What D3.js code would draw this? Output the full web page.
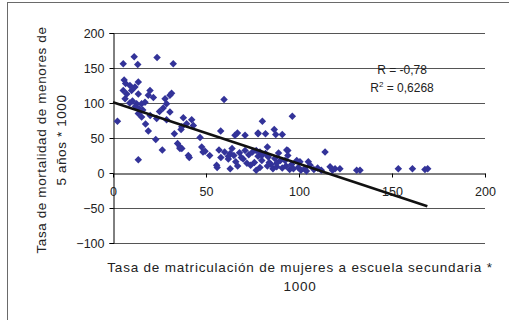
<!DOCTYPE html>
<html>
<head>
<meta charset="utf-8">
<script src="https://cdn.jsdelivr.net/npm/d3@7"></script>
<style>
  body { margin: 0; background: #fff; }
  text { font-family: "Liberation Sans", Arial, sans-serif; fill: #222; }
</style>
</head>
<body>
<div id="chart"></div>
<script>
// matriculación secundaria mujeres (x) vs mortalidad < 5 años (y)
const enrolment = [
  5.5, 11.4, 13.3, 23.7, 32.4,
  6, 6.8, 9.1, 13.6, 11.8, 10, 5.5, 7.4, 13.6, 19.9, 19, 21.7, 31.5, 30.6, 28, 28.8, 6.5, 12.7, 15.4, 17.2,
  2.4, 13.6, 23, 26.5, 19, 17.5, 33, 34.7, 36, 37, 30.6, 36.6,
  13.6, 15.4, 23.5, 28.8, 12, 14, 16, 20, 25, 27, 9, 10.5,
  37.8, 42.3, 39.6, 43.2, 37, 46.8, 57.9, 66.9, 65.6, 71, 78, 59.7,
  36, 41, 47.7, 49.5, 40.5, 48.4, 55.7, 56, 63, 77,
  60, 63, 65, 68, 70, 72, 74, 62, 66, 69, 73, 75, 78, 80, 82, 76, 71, 64, 58, 67,
  80.3, 96.4, 78, 82, 86.7, 87.5, 91, 83, 77, 79, 80, 83.5, 87, 89, 90, 92.5, 94, 114, 98.8, 100.5, 105, 106, 99.6, 103,
  79, 83, 86, 88, 91, 93, 95, 97, 101, 104, 108, 110, 112, 116.7, 118, 119.4, 122, 131, 132.8, 153.4, 161, 167.7, 169.2,
  93.4, 85, 84, 96, 94, 88, 57, 62, 52
];
const mortality = [
  156, 166, 155, 165, 156,
  133, 128, 125, 130, 123, 118, 118, 113, 113, 118, 111, 108, 114, 111, 106, 99, 106, 99, 99, 101,
  74, 19, 48, 33, 60, 70, 56, 42, 37, 35, 87, 62,
  85, 80, 78, 76, 95, 92, 90, 82, 88, 93, 100, 103,
  79, 76, 70.5, 68, 66, 50.6, 60, 57, 54, 54, 56, 105,
  35, 22, 37, 31, 25, 30, 11, 8, 6, 4,
  30, 28, 25, 29, 20, 14, 11, 20, 16, 22, 26, 30, 24, 18, 28, 15, 32, 35, 22, 10,
  74, 81, 57, 56, 62, 55, 55, 37, 32, 30, 25, 23, 20.6, 28.6, 18, 18, 32, 30, 18, 16, 16, 11, 8, 6,
  8, 10, 6, 9, 7, 10, 5, 6, 4, 3, 5, 7, 4, 9, 4, 6, 6, 4, 4, 6, 6, 5, 6,
  33, 12, 15, 12, 25, 14, 33, 24, 25
];
// línea de tendencia (extremos)
const trendX = [0, 169];
const trendY = [101, -47.5];

const xTicks = [0, 50, 100, 150, 200];
const yTicks = [-100, -50, 0, 50, 100, 150, 200];

const width = 509, height = 320;
const svg = d3.select('#chart').append('svg')
  .attr('width', width).attr('height', height);

svg.append('rect').attr('width', width).attr('height', height).attr('fill', '#fff');
// marco exterior
svg.append('rect')
  .attr('x', 7.5).attr('y', 2.5).attr('width', 520).attr('height', 340)
  .attr('fill', 'none').attr('stroke', '#6a6a6a');

const x = d3.scaleLinear().domain([0, 200]).range([113, 485]);
const y = d3.scaleLinear().domain([-100, 200]).range([243, 33]);

// líneas de división
svg.append('g').selectAll('line')
  .data(yTicks.filter(t => t !== 0)).enter()
  .append('line')
  .attr('x1', x(0)).attr('x2', x(200))
  .attr('y1', d => Math.round(y(d)) + 0.5).attr('y2', d => Math.round(y(d)) + 0.5)
  .attr('stroke', '#555').attr('stroke-width', 1);

// eje y
const yAxis = svg.append('g')
  .attr('transform', `translate(${Math.round(x(0)) + 0.5},0)`)
  .call(d3.axisLeft(y).tickValues(yTicks).tickSize(4).tickPadding(5).tickFormat(d3.format('d')));
yAxis.select('.domain').attr('stroke', '#000');
yAxis.selectAll('.tick line').attr('stroke', '#000');
yAxis.selectAll('text').style('font-size', '12.5px').attr('fill', '#222');

// eje x en y = 0
const xAxis = svg.append('g')
  .attr('transform', `translate(0,${Math.round(y(0)) + 0.5})`)
  .call(d3.axisBottom(x).tickValues(xTicks).tickSize(4).tickSizeOuter(0).tickPadding(10).tickFormat(d3.format('d')));
xAxis.select('.domain').attr('stroke', '#000');
xAxis.selectAll('.tick line').attr('stroke', '#000');
xAxis.selectAll('text').style('font-size', '12.5px').attr('fill', '#222');

// puntos
const pts = enrolment.map((v, i) => ({ x: v, y: mortality[i] }));
const diamond = d3.symbol(d3.symbolSquare, 28);
svg.append('g').selectAll('path')
  .data(pts).enter()
  .append('path')
  .attr('d', diamond)
  .attr('transform', d => `translate(${x(d.x)},${y(d.y)}) rotate(45)`)
  .attr('fill', '#333399');

// tendencia
svg.append('line')
  .attr('x1', x(trendX[0])).attr('y1', y(trendY[0]))
  .attr('x2', x(trendX[1])).attr('y2', y(trendY[1]))
  .attr('stroke', '#111').attr('stroke-width', 2.5);

// anotación
svg.append('text').attr('x', 402).attr('y', 74).attr('text-anchor', 'middle')
  .style('font-size', '12px').text('R = -0,78');
const r2 = svg.append('text').attr('x', 402).attr('y', 92).attr('text-anchor', 'middle')
  .style('font-size', '12px');
r2.append('tspan').text('R');
r2.append('tspan').attr('dy', -5).style('font-size', '8px').text('2');
r2.append('tspan').attr('dy', 5).text(' = 0,6268');

// títulos de ejes
svg.append('text').attr('x', 300).attr('y', 272).attr('text-anchor', 'middle')
  .style('font-size', '13.5px').style('letter-spacing', '0.8px')
  .text('Tasa de matriculación de mujeres a escuela secundaria *');
svg.append('text').attr('x', 300).attr('y', 291).attr('text-anchor', 'middle')
  .style('font-size', '13.5px').style('letter-spacing', '0.8px').text('1000');

const yt = svg.append('text').attr('transform', 'translate(46,140) rotate(-90)')
  .attr('text-anchor', 'middle').style('font-size', '13.5px').style('letter-spacing', '0.6px');
yt.append('tspan').attr('x', 0).attr('y', 0).text('Tasa de mortalidad de menores de');
yt.append('tspan').attr('x', 0).attr('y', 20).text('5 años * 1000');
</script>
</body>
</html>
